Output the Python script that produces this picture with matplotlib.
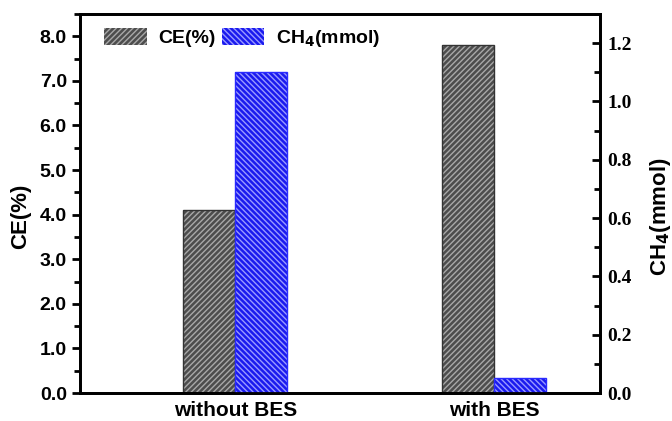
import matplotlib.pyplot as plt
import numpy as np
from matplotlib.ticker import MultipleLocator, FormatStrFormatter
from matplotlib.patches import Patch

groups = ['without BES', 'with BES']
ce = [4.1, 7.8]
ch4 = [1.10, 0.05]

plt.rcParams['font.family'] = 'Liberation Sans'
plt.rcParams['font.weight'] = 'bold'
plt.rcParams['hatch.linewidth'] = 1.0

fig = plt.figure(figsize=(6.72, 4.21), dpi=100)
ax = fig.add_axes([80 / 672, 1 - 393 / 421, 520 / 672, 379 / 421])
ax2 = ax.twinx()

x = np.arange(len(groups))
w = 0.2
gray_face, gray_hatch, gray_edge = '#4d4d4d', '#a8a8a8', '#333333'
blue_face, blue_hatch, blue_edge = '#1a1aee', '#9a9aff', '#2a2aff'

# hatched fill first, then a plain outline on top
ax.bar(x - w / 2, ce, w, color=gray_face, edgecolor=gray_hatch, hatch='//////', linewidth=0)
ax.bar(x - w / 2, ce, w, fill=False, edgecolor=gray_edge, linewidth=1.0)
ax2.bar(x + w / 2, ch4, w, color=blue_face, edgecolor=blue_hatch, hatch='\\\\\\\\\\\\', linewidth=0)
ax2.bar(x + w / 2, ch4, w, fill=False, edgecolor=blue_edge, linewidth=1.0)

ax.set_xlim(-0.6, 1.41)
ax.set_ylim(0, 8.5)
ax2.set_ylim(0, 1.3)

ax.set_xticks(x)
ax.set_xticklabels(groups, fontsize=15, fontweight='bold')
ax.tick_params(axis='x', length=0, pad=6)

ax.yaxis.set_major_locator(MultipleLocator(1.0))
ax.yaxis.set_minor_locator(MultipleLocator(0.5))
ax.yaxis.set_major_formatter(FormatStrFormatter('%.1f'))
ax.tick_params(axis='y', which='major', direction='out', length=6, width=2, labelsize=14)
ax.tick_params(axis='y', which='minor', direction='out', length=4, width=2)
ax.set_ylabel('CE(%)', fontsize=16, fontweight='bold')
ax.yaxis.set_label_coords(-0.094, 0.465)

ax2.yaxis.set_major_locator(MultipleLocator(0.2))
ax2.yaxis.set_minor_locator(MultipleLocator(0.1))
ax2.yaxis.set_major_formatter(FormatStrFormatter('%.1f'))
ax2.tick_params(axis='y', which='major', direction='in', length=6, width=2, labelsize=14, pad=5)
ax2.tick_params(axis='y', which='minor', direction='in', length=4, width=2)
for lab in ax2.get_yticklabels():
    lab.set_fontfamily('Liberation Serif')
    lab.set_fontweight('bold')
ax2.set_ylabel('CH$_4$(mmol)', fontsize=16, fontweight='bold')
ax2.yaxis.set_label_coords(1.092, 0.465)

for a in (ax, ax2):
    for s in a.spines.values():
        s.set_linewidth(2)

handles = [Patch(facecolor=gray_face, edgecolor=gray_hatch, hatch='//////', linewidth=0),
           Patch(facecolor=blue_face, edgecolor=blue_hatch, hatch='\\\\\\\\\\\\', linewidth=0)]
ax.legend(handles, ['CE(%)', 'CH$_4$(mmol)'], loc='upper left', ncol=2, frameon=False,
          fontsize=14, handlelength=2.2, handleheight=1.0, columnspacing=0.3, handletextpad=0.6,
          bbox_to_anchor=(0.02, 1.0), borderaxespad=0.3)

fig.savefig('out.png', dpi=100)
